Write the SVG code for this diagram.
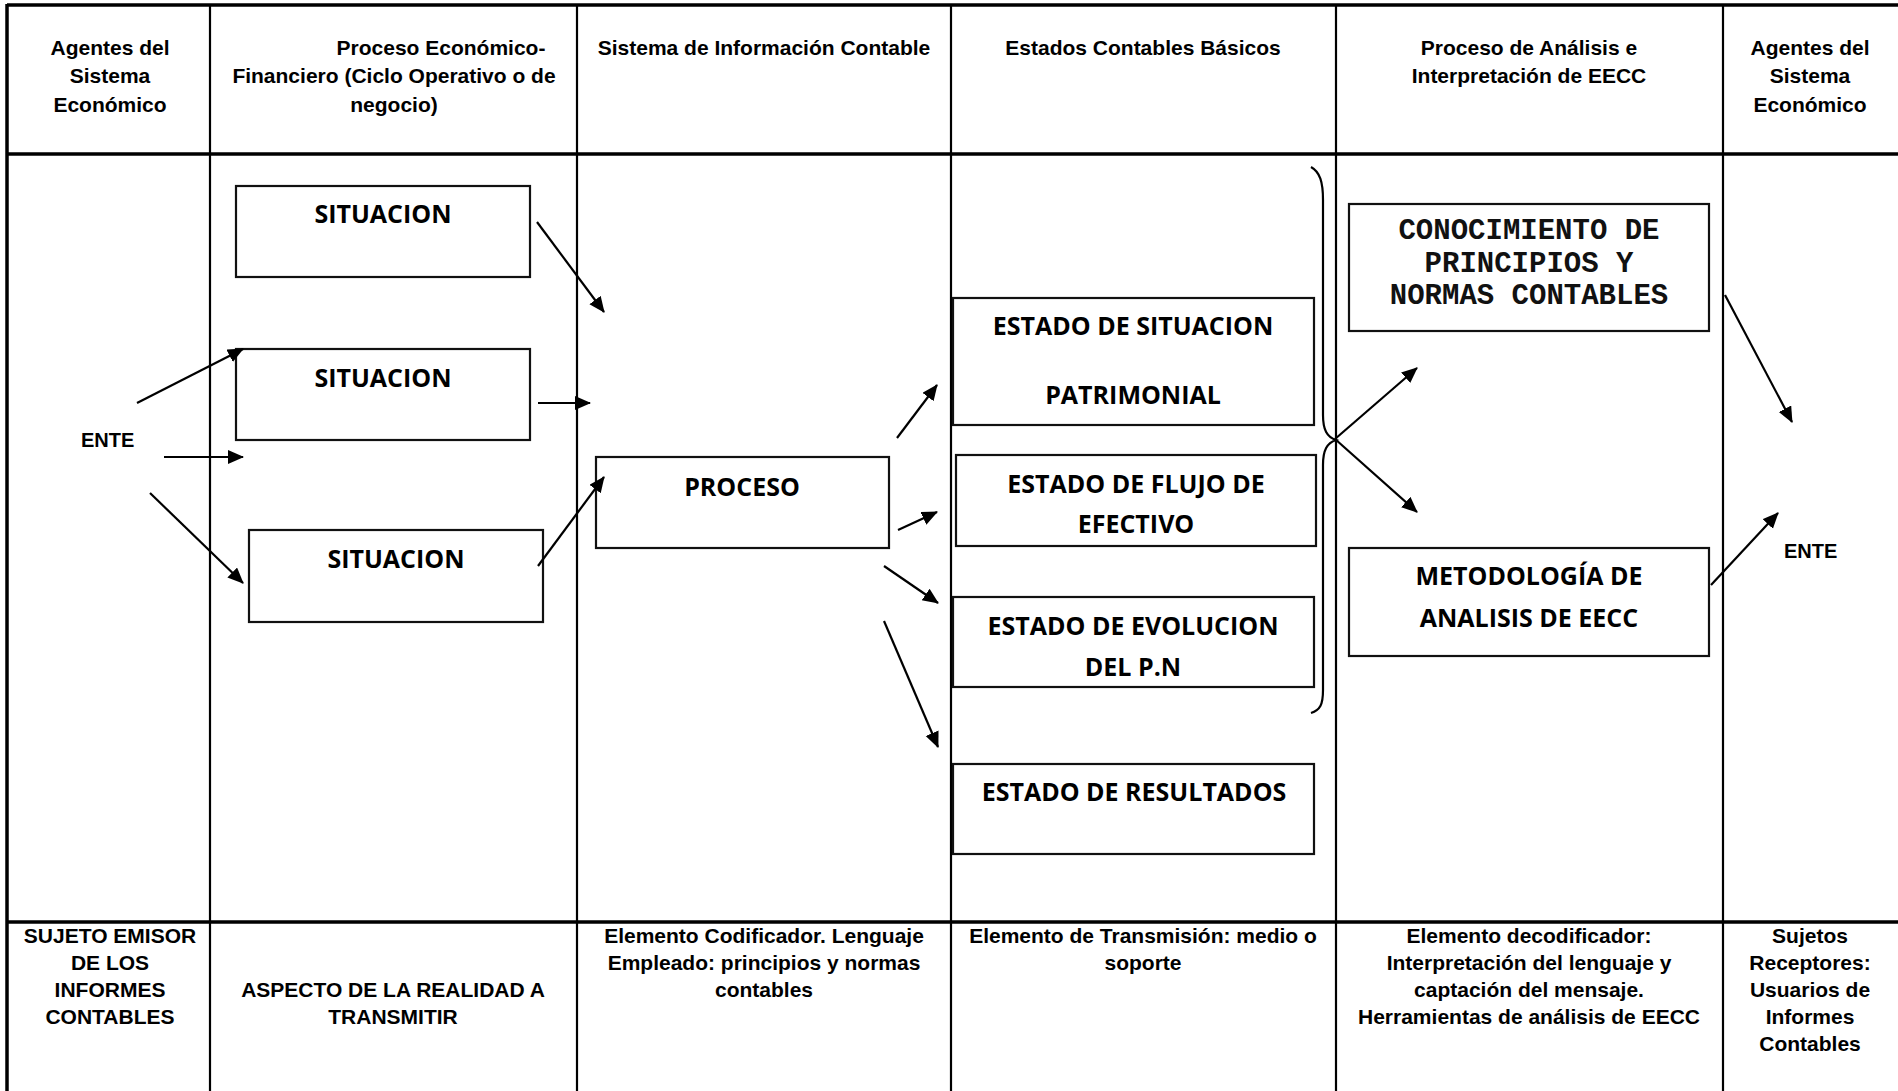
<svg xmlns="http://www.w3.org/2000/svg" width="1898" height="1091" viewBox="0 0 1898 1091">
  <defs>
    <style>
      .grid { stroke: #000; fill: none; }
      .thick { stroke-width: 3.5; }
      .thin { stroke-width: 2.2; }
      .hdr { font-family: "Liberation Sans", Arial, sans-serif; font-weight: bold; font-size: 21px; text-anchor: middle; fill: #000; }
      .box rect { fill: #fff; stroke: #111; stroke-width: 2.2; }
      .lbl { font-family: "Open Sans", "Noto Sans", sans-serif; font-weight: 700; font-size: 25px; text-anchor: middle; fill: #000; }
      .mono { font-family: "Liberation Mono", "Courier New", monospace; font-weight: bold; font-size: 29px; text-anchor: middle; fill: #111; }
      .ente { font-family: "Liberation Sans", Arial, sans-serif; font-weight: bold; font-size: 20px; fill: #000; }
      .conn path, .conn line { stroke: #000; stroke-width: 2.2; fill: none; }
    </style>
    <marker id="arrow" markerUnits="userSpaceOnUse" markerWidth="18" markerHeight="16" refX="15" refY="7" orient="auto">
      <path d="M0,0 L16,7 L0,14 Z" fill="#000"/>
    </marker>
  </defs>

  <rect width="1898" height="1091" fill="#fff"/>

  <!-- table frame and column rules -->
  <g id="table">
    <line class="grid thick" x1="7" y1="5" x2="1898" y2="5"/>
    <line class="grid thick" x1="7" y1="4" x2="7" y2="1091"/>
    <line class="grid thick" x1="7" y1="154" x2="1898" y2="154"/>
    <line class="grid thick" x1="7" y1="922" x2="1898" y2="922"/>
    <line class="grid thin" x1="210" y1="4" x2="210" y2="1091"/>
    <line class="grid thin" x1="577" y1="4" x2="577" y2="1091"/>
    <line class="grid thin" x1="951" y1="4" x2="951" y2="1091"/>
    <line class="grid thin" x1="1336" y1="4" x2="1336" y2="1091"/>
    <line class="grid thin" x1="1723" y1="4" x2="1723" y2="1091"/>
  </g>

  <!-- column headings -->
  <g id="headings">
    <text class="hdr" x="110" y="55">Agentes del</text>
    <text class="hdr" x="110" y="83">Sistema</text>
    <text class="hdr" x="110" y="112">Económico</text>
    <text class="hdr" x="441" y="55">Proceso Económico-</text>
    <text class="hdr" x="394" y="83">Financiero (Ciclo Operativo o de</text>
    <text class="hdr" x="394" y="112">negocio)</text>
    <text class="hdr" x="764" y="55">Sistema de Información Contable</text>
    <text class="hdr" x="1143" y="55">Estados Contables Básicos</text>
    <text class="hdr" x="1529" y="55">Proceso de Análisis e</text>
    <text class="hdr" x="1529" y="83">Interpretación de EECC</text>
    <text class="hdr" x="1810" y="55">Agentes del</text>
    <text class="hdr" x="1810" y="83">Sistema</text>
    <text class="hdr" x="1810" y="112">Económico</text>
  </g>

  <!-- footer descriptions -->
  <g id="footer">
    <text class="hdr" x="110" y="943">SUJETO EMISOR</text>
    <text class="hdr" x="110" y="970">DE LOS</text>
    <text class="hdr" x="110" y="997">INFORMES</text>
    <text class="hdr" x="110" y="1024">CONTABLES</text>
    <text class="hdr" x="393" y="997">ASPECTO DE LA REALIDAD A</text>
    <text class="hdr" x="393" y="1024">TRANSMITIR</text>
    <text class="hdr" x="764" y="943">Elemento Codificador. Lenguaje</text>
    <text class="hdr" x="764" y="970">Empleado: principios y normas</text>
    <text class="hdr" x="764" y="997">contables</text>
    <text class="hdr" x="1143" y="943">Elemento de Transmisión: medio o</text>
    <text class="hdr" x="1143" y="970">soporte</text>
    <text class="hdr" x="1529" y="943">Elemento decodificador:</text>
    <text class="hdr" x="1529" y="970">Interpretación del lenguaje y</text>
    <text class="hdr" x="1529" y="997">captación del mensaje.</text>
    <text class="hdr" x="1529" y="1024">Herramientas de análisis de EECC</text>
    <text class="hdr" x="1810" y="943">Sujetos</text>
    <text class="hdr" x="1810" y="970">Receptores:</text>
    <text class="hdr" x="1810" y="997">Usuarios de</text>
    <text class="hdr" x="1810" y="1024">Informes</text>
    <text class="hdr" x="1810" y="1051">Contables</text>
  </g>

  <!-- entity labels -->
  <g id="ente-emisor"><text class="ente" x="81" y="447">ENTE</text></g>
  <g id="ente-receptor"><text class="ente" x="1784" y="558">ENTE</text></g>

  <!-- nodes -->
  <g id="situacion-1" class="box">
    <rect x="236" y="186" width="294" height="91"/>
    <text class="lbl" x="383" y="223">SITUACION</text>
  </g>
  <g id="situacion-2" class="box">
    <rect x="236" y="349" width="294" height="91"/>
    <text class="lbl" x="383" y="387">SITUACION</text>
  </g>
  <g id="situacion-3" class="box">
    <rect x="249" y="530" width="294" height="92"/>
    <text class="lbl" x="396" y="568">SITUACION</text>
  </g>
  <g id="proceso" class="box">
    <rect x="596" y="457" width="293" height="91"/>
    <text class="lbl" x="742" y="496">PROCESO</text>
  </g>
  <g id="estado-situacion" class="box">
    <rect x="953" y="298" width="361" height="127"/>
    <text class="lbl" x="1133" y="335">ESTADO DE SITUACION</text>
    <text class="lbl" x="1133" y="404">PATRIMONIAL</text>
  </g>
  <g id="estado-flujo" class="box">
    <rect x="956" y="455" width="360" height="91"/>
    <text class="lbl" x="1136" y="493">ESTADO DE FLUJO DE</text>
    <text class="lbl" x="1136" y="533">EFECTIVO</text>
  </g>
  <g id="estado-evolucion" class="box">
    <rect x="953" y="597" width="361" height="90"/>
    <text class="lbl" x="1133" y="635">ESTADO DE EVOLUCION</text>
    <text class="lbl" x="1133" y="676">DEL P.N</text>
  </g>
  <g id="estado-resultados" class="box">
    <rect x="953" y="764" width="361" height="90"/>
    <text class="lbl" x="1134" y="801">ESTADO DE RESULTADOS</text>
  </g>
  <g id="conocimiento" class="box">
    <rect x="1349" y="204" width="360" height="127"/>
    <text class="mono" x="1529" y="239">CONOCIMIENTO DE</text>
    <text class="mono" x="1529" y="272">PRINCIPIOS Y</text>
    <text class="mono" x="1529" y="304">NORMAS CONTABLES</text>
  </g>
  <g id="metodologia" class="box">
    <rect x="1349" y="548" width="360" height="108"/>
    <text class="lbl" x="1529" y="585">METODOLOGÍA DE</text>
    <text class="lbl" x="1529" y="627">ANALISIS DE EECC</text>
  </g>

  <!-- connectors -->
  <g id="connectors" class="conn">
    <line x1="137" y1="403" x2="243" y2="349" marker-end="url(#arrow)"/>
    <line x1="164" y1="457" x2="243" y2="457" marker-end="url(#arrow)"/>
    <line x1="150" y1="493" x2="243" y2="583" marker-end="url(#arrow)"/>

    <line x1="537" y1="222" x2="604" y2="312" marker-end="url(#arrow)"/>
    <line x1="538" y1="403" x2="590" y2="403" marker-end="url(#arrow)"/>
    <line x1="538" y1="566" x2="604" y2="477" marker-end="url(#arrow)"/>

    <line x1="897" y1="438" x2="937" y2="385" marker-end="url(#arrow)"/>
    <line x1="898" y1="530" x2="937" y2="512" marker-end="url(#arrow)"/>
    <line x1="884" y1="566" x2="938" y2="603" marker-end="url(#arrow)"/>
    <line x1="884" y1="621" x2="938" y2="747" marker-end="url(#arrow)"/>

    <!-- brace grouping the first three statements -->
    <path d="M1311,167 C1320,172 1323,182 1323,200 L1323,415 C1323,430 1327,437 1336,440 C1327,443 1323,450 1323,465 L1323,690 C1323,705 1320,710 1311,713"/>

    <line x1="1335" y1="439" x2="1417" y2="368" marker-end="url(#arrow)"/>
    <line x1="1335" y1="439" x2="1417" y2="512" marker-end="url(#arrow)"/>

    <line x1="1725" y1="295" x2="1792" y2="422" marker-end="url(#arrow)"/>
    <line x1="1711" y1="585" x2="1778" y2="513" marker-end="url(#arrow)"/>
  </g>
</svg>
